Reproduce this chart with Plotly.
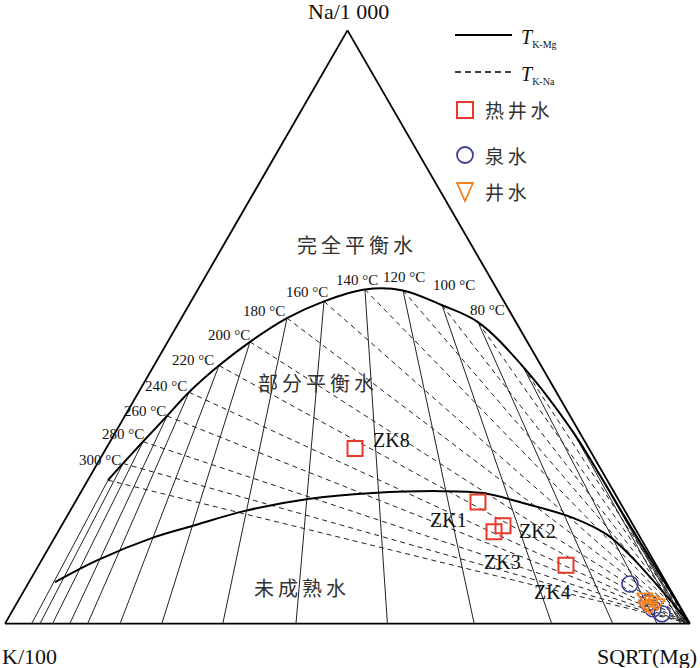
import plotly.graph_objects as go

# ---------------- data (percent of Na/1000 + K/100 + sqrt(Mg)) ----------------
# Full-equilibrium curve nodes: Na/1000 (a) and sqrt(Mg) (c); K/100 = 100 - a - c
eq_temps = ["", "300 °C", "280 °C", "260 °C", "240 °C", "220 °C", "200 °C", "180 °C",
            "160 °C", "140 °C", "120 °C", "100 °C", "80 °C", "", "", "", "", ""]
eq_na = [24.17, 27.0, 30.67, 35.0, 39.0, 43.5, 47.5, 51.5, 54.33, 56.33, 56.17,
         53.67, 50.83, 43.33, 32.33, 25.0, 17.33, 0.0]
eq_mg = [2.95, 3.73, 4.81, 6.15, 7.36, 9.49, 12.02, 15.42, 19.40, 24.38, 30.02,
         36.97, 43.63, 53.95, 66.75, 74.36, 82.14, 100.0]

# Immature-water boundary (partial equilibrium lower limit)
imm_na = [7.0, 10.67, 14.5, 16.5, 19.0, 21.0, 22.0, 22.33, 22.0, 20.33, 17.83, 15.0, 11.17, 0.0]
imm_mg = [3.8, 8.1, 14.36, 19.2, 25.54, 33.73, 42.72, 52.33, 58.78, 65.45, 74.0, 80.38, 85.95, 100.0]

# Samples
hot_names = ["ZK8", "ZK1", "ZK2", "ZK3", "ZK4"]
hot_na = [29.5, 20.5, 16.5, 15.5, 9.83]
hot_mg = [36.35, 58.8, 64.45, 63.64, 76.98]

spring_na = [6.67, 3.5, 2.5, 1.67]
spring_mg = [87.9, 92.12, 93.35, 95.08]

well_na = [4.5, 4.0, 2.83, 3.5, 3.17]
well_mg = [91.18, 92.45, 92.74, 93.43, 92.0]


def k_of(na, mg):
    return [100.0 - x - y for x, y in zip(na, mg)]


eq_k = k_of(eq_na, eq_mg)
imm_k = k_of(imm_na, imm_mg)

# K-Mg isotherms: from curve node straight away from the Na apex to the K-Mg base
kmg_a, kmg_b, kmg_c = [], [], []
# K-Na isotherms: from curve node to the sqrt(Mg) corner
kna_a, kna_b, kna_c = [], [], []
for a, b, c in zip(eq_na[:-1], eq_k[:-1], eq_mg[:-1]):
    s = b + c
    kmg_a += [a, 0.0, None]
    kmg_b += [b, 100.0 * b / s, None]
    kmg_c += [c, 100.0 * c / s, None]
    kna_a += [a, 0.0, None]
    kna_b += [b, 0.0, None]
    kna_c += [c, 100.0, None]

SERIF = "Liberation Serif, Times New Roman, serif"
CJK = "Noto Sans CJK SC, sans-serif"
RED = "#e8392b"
BLUE = "#3a3f95"
ORANGE = "#f5821f"

fig = go.Figure()
fig.add_trace(go.Scatterternary(a=kna_a, b=kna_b, c=kna_c, mode="lines",
                                line=dict(color="#222", width=1, dash="5px,4px"),
                                hoverinfo="skip", connectgaps=False))
fig.add_trace(go.Scatterternary(a=kmg_a, b=kmg_b, c=kmg_c, mode="lines",
                                line=dict(color="#222", width=1),
                                hoverinfo="skip", connectgaps=False))
fig.add_trace(go.Scatterternary(a=eq_na, b=eq_k, c=eq_mg, mode="lines",
                                line=dict(color="black", width=2, shape="spline")))
fig.add_trace(go.Scatterternary(a=imm_na, b=imm_k, c=imm_mg, mode="lines",
                                line=dict(color="black", width=2, shape="spline")))
fig.add_trace(go.Scatterternary(a=spring_na, b=k_of(spring_na, spring_mg), c=spring_mg,
                                mode="markers",
                                marker=dict(symbol="circle-open", size=16, color=BLUE,
                                            line=dict(width=1.6, color=BLUE))))
fig.add_trace(go.Scatterternary(a=well_na, b=k_of(well_na, well_mg), c=well_mg,
                                mode="markers",
                                marker=dict(symbol="triangle-down-open", size=14, color=ORANGE,
                                            line=dict(width=1.8, color=ORANGE))))
fig.add_trace(go.Scatterternary(a=hot_na, b=k_of(hot_na, hot_mg), c=hot_mg,
                                mode="markers", text=hot_names,
                                marker=dict(symbol="square-open", size=15, color=RED,
                                            line=dict(width=2, color=RED))))

L, R, T, B = 5, 10, 27, 41
W = 700 - L - R
H = 668 - T - B


def px(x, y):
    return (x - L) / W, (668 - B - y) / H


ann = []


def text(s, x, y, size, font=SERIF, xanchor="center", color="#111"):
    xp, yp = px(x, y)
    ann.append(dict(text=s, x=xp, y=yp, xref="paper", yref="paper", showarrow=False,
                    xanchor=xanchor, yanchor="middle",
                    font=dict(family=font, size=size, color=color)))


# axis titles
text("Na/1 000", 348, 11, 22)
text("K/100", 0, 656, 22, xanchor="left")
text("SQRT(Mg)", 699, 656, 22, xanchor="right")

# temperature labels
temp_pos = [(123, 460), (146, 434), (168, 411), (189, 386), (216, 360), (252, 335),
            (287, 311), (330, 292), (380, 280), (427, 277), (477, 285), (507, 310)]
labels = [t for t in eq_temps if t]
for lab, (x, y) in zip(labels, temp_pos):
    text(lab, x, y, 15, xanchor="right")

# region labels
sp = "\u2009"
text(sp.join("完全平衡水"), 355, 244, 20, font=CJK, color="#333")
text(sp.join("部分平衡水"), 316, 382, 20, font=CJK, color="#333")
text(sp.join("未成熟水"), 300, 587, 20, font=CJK, color="#333")

# sample labels
zk_pos = [(391, 440), (448, 520), (537, 531), (502, 562), (552, 592)]
for name, (x, y) in zip(hot_names, zk_pos):
    text(name, x, y, 20)

# legend
shapes = []
x0, y0 = px(455, 35); x1, _ = px(512, 35)
shapes.append(dict(type="line", xref="paper", yref="paper", x0=x0, y0=y0, x1=x1, y1=y0,
                   line=dict(color="black", width=1.8)))
x0, y0 = px(455, 72); x1, _ = px(512, 72)
shapes.append(dict(type="line", xref="paper", yref="paper", x0=x0, y0=y0, x1=x1, y1=y0,
                   line=dict(color="black", width=1.5, dash="6px,4px")))
x0, y0 = px(457, 118); x1, y1 = px(473, 102)
shapes.append(dict(type="rect", xref="paper", yref="paper", x0=x0, y0=y0, x1=x1, y1=y1,
                   line=dict(color=RED, width=2)))
x0, y0 = px(457, 163); x1, y1 = px(473, 147)
shapes.append(dict(type="circle", xref="paper", yref="paper", x0=x0, y0=y0, x1=x1, y1=y1,
                   line=dict(color=BLUE, width=1.8)))
ax, ay = px(457, 183); bx, by = px(473, 183); cx, cy = px(465, 201)
shapes.append(dict(type="path", xref="paper", yref="paper",
                   path=f"M{ax},{ay} L{bx},{by} L{cx},{cy} Z",
                   line=dict(color=ORANGE, width=1.8)))
SUB = '<sub><span style="font-size:10px">{}</span></sub>'
text("<i>T</i>" + SUB.format("K-Mg"), 519, 38, 20, xanchor="left")
text("<i>T</i>" + SUB.format("K-Na"), 519, 75, 20, xanchor="left")
text(sp.join("热井水"), 483, 110, 19, font=CJK, xanchor="left", color="#333")
text(sp.join("泉水"), 483, 155, 19, font=CJK, xanchor="left", color="#333")
text(sp.join("井水"), 483, 191, 19, font=CJK, xanchor="left", color="#333")

axis = dict(showline=True, linecolor="black", linewidth=1.8, showgrid=False,
            showticklabels=False, ticks="", title=dict(text=""))
fig.update_layout(
    width=700, height=668,
    margin=dict(l=L, r=R, t=T, b=B, pad=0),
    paper_bgcolor="white",
    showlegend=False,
    ternary=dict(sum=100, bgcolor="white", domain=dict(x=[0, 1], y=[0, 1]),
                 aaxis=axis, baxis=axis, caxis=axis),
    annotations=ann,
    shapes=shapes,
)
fig.write_html("out.html", config={"displayModeBar": False},
               post_script="document.body.style.margin='0';document.body.style.overflow='hidden';")
